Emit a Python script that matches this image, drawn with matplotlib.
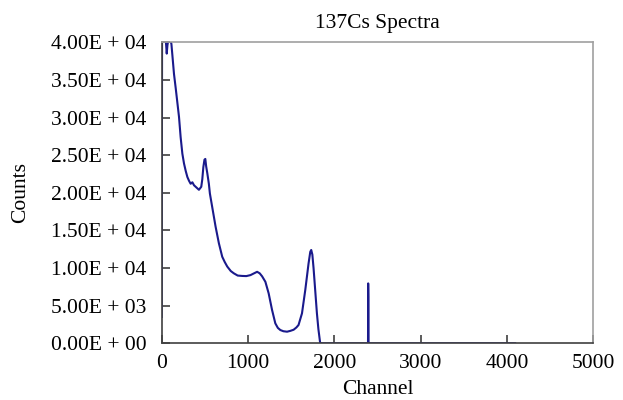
import matplotlib
matplotlib.use("Agg")
import matplotlib.pyplot as plt

# spectrum (channel, counts)
channels = [0, 4, 20, 45, 52, 58, 66, 76, 84, 98, 112, 124, 142, 162, 181, 200,
            219, 239, 258, 278, 297, 316, 335, 355, 374, 393, 412, 431, 458, 470,
            482, 495, 505, 515, 528, 546, 558, 585, 624, 662, 701, 730, 759, 800,
            835, 880, 932, 980, 1028, 1070, 1105, 1135, 1163, 1201, 1239, 1278,
            1316, 1345, 1374, 1410, 1452, 1490, 1528, 1560, 1585, 1625, 1663,
            1701, 1721, 1732, 1745, 1759, 1778, 1798, 1815, 1836, 1850, 2390,
            2392, 2394, 2396, 2398, 4095]
counts = [3500, 42000, 41000, 40500, 39500, 38500, 39600, 40300, 40200, 40300,
          39800, 38200, 35800, 33900, 32000, 30100, 27400, 25200, 23900, 22900,
          22100, 21600, 21200, 21400, 21000, 20800, 20600, 20400, 20800, 21800,
          23400, 24400, 24500, 23500, 22600, 21200, 19900, 18100, 15500, 13300,
          11500, 10800, 10200, 9600, 9300, 9000, 8950, 8930, 9060, 9300, 9500,
          9300, 8900, 8170, 6630, 4440, 2650, 2050, 1760, 1600, 1540, 1650,
          1800, 2100, 2430, 3980, 7070, 10600, 12150, 12400, 11800, 10000, 7070,
          3980, 1900, 0, 0, 0, 7960, 6180, 0, 0, 0]

x_ticks = [0, 1000, 2000, 3000, 4000, 5000]
y_ticks = [0, 5000, 10000, 15000, 20000, 25000, 30000, 35000, 40000]
y_labels = ["0.00E + 00", "5.00E + 03", "1.00E + 04", "1.50E + 04", "2.00E + 04",
            "2.50E + 04", "3.00E + 04", "3.50E + 04", "4.00E + 04"]

plt.rcParams["font.family"] = ["Liberation Serif", "DejaVu Serif"]

fig = plt.figure(figsize=(6.23, 4.0), dpi=100)
ax = fig.add_axes([0.2596, 0.1418, 0.6927, 0.7524])

ax.plot(channels, counts, color="#1a1a8c", linewidth=1.5)

ax.set_xlim(0, 5000)
ax.set_ylim(0, 40000)
ax.set_xticks(x_ticks)
ax.set_yticks(y_ticks, labels=y_labels)

ax.tick_params(axis="both", direction="in", length=6, width=1.2,
               color="#404040", labelsize=15.5)
ax.tick_params(axis="x", pad=8)
ax.tick_params(axis="y", pad=11)

for side in ["left", "bottom"]:
    ax.spines[side].set_color("#404040")
    ax.spines[side].set_linewidth(1.2)
for side in ["top", "right"]:
    ax.spines[side].set_color("#a0a0a0")
    ax.spines[side].set_linewidth(1.2)

ax.set_title("137Cs Spectra", fontsize=15.5, pad=10)
ax.set_xlabel("Channel", fontsize=15.5, labelpad=5)
ax.set_ylabel("Counts", fontsize=15.5, labelpad=15)

fig.savefig("out.png", dpi=100)
